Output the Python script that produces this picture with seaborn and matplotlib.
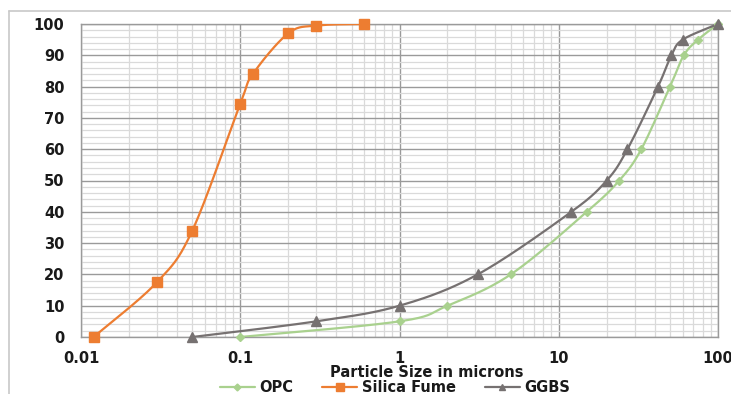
import numpy as np
import pandas as pd
import matplotlib
matplotlib.use("Agg")
import matplotlib.pyplot as plt
import seaborn as sns
from matplotlib.ticker import LogLocator, FixedLocator, NullFormatter
from matplotlib.lines import Line2D

# ---- data ----
opc_x = [0.1, 1, 2, 5, 15, 24, 33, 50, 61, 75, 100]
opc_y = [0, 5, 10, 20, 40, 50, 60, 80, 90, 95, 100]
sf_x = [0.012, 0.03, 0.05, 0.1, 0.12, 0.2, 0.3, 0.6]
sf_y = [0, 17.5, 34, 74.5, 84, 97, 99.5, 100]
gg_x = [0.05, 0.3, 1, 3.1, 12, 20, 27, 42, 51, 60, 100]
gg_y = [0, 5, 10, 20, 40, 50, 60, 80, 90, 95, 100]
x_ticks = [0.01, 0.1, 1, 10, 100]
x_tick_labels = ["0.01", "0.1", "1", "10", "100"]
y_ticks = [0, 10, 20, 30, 40, 50, 60, 70, 80, 90, 100]

series = [("OPC", opc_x, opc_y, "#A9D18E", "D", 4.5, 3.5),
          ("Silica Fume", sf_x, sf_y, "#ED7D31", "s", 7, 6),
          ("GGBS", gg_x, gg_y, "#767171", "^", 6.5, 5)]


def smooth(xs, ys, n=30):
    # Catmull-Rom (Excel-like smoothing) in display-like space (log x)
    u = np.log10(np.asarray(xs, float)) * 159.0
    v = np.asarray(ys, float) * 3.13
    P = np.column_stack([u, v])
    P = np.vstack([P[0], P, P[-1]])
    out = []
    t = np.linspace(0, 1, n)[:, None]
    for i in range(1, len(P) - 2):
        p0, p1, p2, p3 = P[i - 1], P[i], P[i + 1], P[i + 2]
        c1 = p1 + (p2 - p0) / 6.0
        c2 = p2 - (p3 - p1) / 6.0
        seg = ((1 - t) ** 3) * p1 + 3 * ((1 - t) ** 2) * t * c1 + 3 * (1 - t) * t ** 2 * c2 + t ** 3 * p2
        out.append(seg if i == 1 else seg[1:])
    out = np.vstack(out)
    return 10 ** (out[:, 0] / 159.0), out[:, 1] / 3.13


sns.set_theme(style="white")
plt.rcParams['font.family'] = ['DejaVu Sans']

fig = plt.figure(figsize=(7.31, 3.94), dpi=100)
ax = fig.add_axes([81 / 731, 1 - 337 / 394, (718 - 81) / 731, (337 - 24) / 394])

handles = []
for name, xs, ys, col, mk, ms, lms in series:
    sx, sy = smooth(xs, ys)
    df = pd.DataFrame({"x": sx, "y": sy})
    sns.lineplot(data=df, x="x", y="y", sort=False, estimator=None, color=col, lw=1.6, ax=ax, zorder=3)
    ax.plot(xs, ys, ls="none", marker=mk, ms=ms, color=col, zorder=4, clip_on=False)
    handles.append(Line2D([], [], color=col, lw=1.6, marker=mk, ms=lms, label=name))

ax.set_xscale("log")
ax.set_xlim(0.01, 100)
ax.set_ylim(0, 100)
ax.xaxis.set_major_locator(FixedLocator(x_ticks))
ax.set_xticklabels(x_tick_labels)
ax.xaxis.set_minor_locator(LogLocator(base=10, subs=np.arange(2, 10)))
ax.xaxis.set_minor_formatter(NullFormatter())
ax.yaxis.set_major_locator(FixedLocator(y_ticks))
ax.yaxis.set_minor_locator(FixedLocator(np.arange(0, 101, 2)))

ax.grid(which="major", color="#9a9a9a", lw=1.0)
ax.grid(which="minor", color="#dadada", lw=0.9)
ax.set_axisbelow(True)
for s in ax.spines.values():
    s.set_color("#9a9a9a")
    s.set_linewidth(1.0)
ax.tick_params(axis="both", which="both", length=0, labelsize=10.5, colors="#1a1a1a")
ax.tick_params(axis="x", pad=10)
ax.tick_params(axis="y", pad=12)
for lab in ax.get_xticklabels() + ax.get_yticklabels():
    lab.set_fontweight("bold")

ax.set_xlabel("Particle Size in microns", fontsize=10.5, fontweight="bold", color="#1a1a1a")
ax.set_ylabel("")
ax.xaxis.set_label_coords((427 - 81) / (718 - 81), -(365 - 337) / (337 - 24))

leg = fig.legend(handles=handles, loc="center", bbox_to_anchor=(395 / 731, 1 - 388 / 394),
                 ncol=3, frameon=False, prop={"weight": "bold", "size": 10.5},
                 handlelength=2.4, columnspacing=2.0, handletextpad=0.3,
                 borderaxespad=0, borderpad=0)
for t in leg.get_texts():
    t.set_color("#1a1a1a")

# outer chart border
fig.add_artist(Line2D([9 / 731, 1.0], [1 - 11 / 394, 1 - 11 / 394], color="#c8c8c8", lw=1.2, transform=fig.transFigure))
fig.add_artist(Line2D([9 / 731, 9 / 731], [1 - 11 / 394, 0], color="#c8c8c8", lw=1.2, transform=fig.transFigure))

fig.savefig("out.png", dpi=100)
